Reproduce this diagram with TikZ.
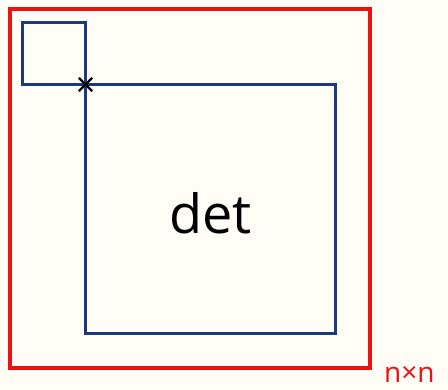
\documentclass[tikz,border=0pt]{standalone}
\usepackage{fontspec}
\setmainfont{Open Sans}
\usetikzlibrary{positioning, shapes.misc}
\definecolor{paper}{HTML}{FFFDF6}
\definecolor{outer}{HTML}{EE1111}
\definecolor{inner}{HTML}{1C3A80}
\tikzstyle{redbox}    = [rectangle, draw=outer, line width=3.5pt, inner sep=0pt, outer sep=0pt]
\tikzstyle{bluebox}   = [rectangle, draw=inner, line width=3pt, inner sep=0pt, outer sep=0pt]
\tikzstyle{crossmark} = [cross out, draw=black, line width=2.4pt, minimum size=11pt, inner sep=0pt]

\begin{document}
\begin{tikzpicture}[x=1pt, y=-1pt]

  %% Canvas
  \fill[paper] (0,0) rectangle (448,390);
  \useasboundingbox (0,0) rectangle (448,390);

  %% Whole n x n matrix
  \node[redbox, minimum width=360pt, minimum height=359pt] (mat) at (190,188.5) {};
  \node[outer, font=\fontsize{28}{32}\selectfont, anchor=base west, inner sep=1pt]
        (size) at (383,383) {n×n};

  %% Lower right block and the corner block
  \node[bluebox, minimum width=250pt, minimum height=249pt, anchor=north west]
        (big) at (85.5,84.5) {};
  \node[bluebox, minimum width=63pt, minimum height=62pt, anchor=south east]
        (small) at (big.north west) {};

  %% Crossing point
  \node[crossmark] (pivot) at (big.north west) {};

  %% Label
  \node[font=\fontsize{54}{60}\selectfont] (det) at ([yshift=-4pt]big.center) {det};

\end{tikzpicture}
\end{document}
